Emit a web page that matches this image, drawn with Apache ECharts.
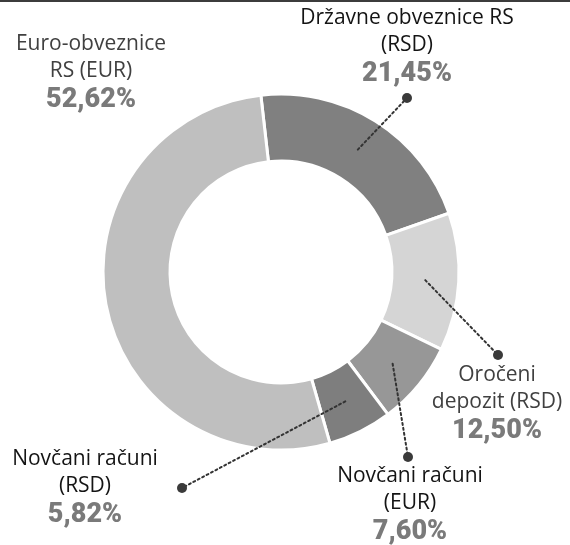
<!DOCTYPE html>
<html>
<head>
    <meta charset="utf-8" />
    <title>Struktura portfolija</title>
    <script src="https://cdn.jsdelivr.net/npm/echarts@6/dist/echarts.min.js"></script>
    <style>
        html, body { margin: 0; padding: 0; background: #fff; }
        #echart { width: 570px; height: 543px; border-top: 2px solid #3c3c3c; }
    </style>
</head>
<body>
    <div id="echart"></div>
<script>
    // data, clockwise from the top
    var names = ['Državne obveznice RS\n(RSD)', 'Oročeni\ndepozit (RSD)', 'Novčani računi\n(EUR)', 'Novčani računi\n(RSD)', 'Euro-obveznice\nRS (EUR)'];
    var values = [21.45, 12.50, 7.60, 5.82, 52.62];
    var colors = ['#808080', '#d5d5d5', '#979797', '#7e7e7e', '#bfbfbf'];
    var textTone = ['n', 'm', 'n', 'n', 'm'];
    // where the text block and the leader dot sit
    var labelPos = [[407, 45], [497, 402], [410, 503], [85, 486], [91, 71]];
    var dotPos = [[407, 96], [498, 353], [408, 455], [182, 486], null];

    var cx = 281, cy = 270, rIn = 111, rOut = 178, startAngle = 96.5;
    var rMid = (rIn + rOut) / 2;

    // mid angle of every slice, for where the leader line starts
    var total = values.reduce(function (a, b) { return a + b; }, 0);
    var midAngles = [];
    var acc = 0;
    for (var i = 0; i < values.length; i++) {
        midAngles.push((startAngle - (acc + values[i] / 2) / total * 360) * Math.PI / 180);
        acc += values[i];
    }

    function pct(v) { return v.toFixed(2).replace('.', ',') + '%'; }

    var myChart = echarts.init(document.getElementById('echart'));
    var option = {
        animation: false,
        series: [
            {
                type: 'pie',
                z: 2,
                center: [cx, cy],
                radius: [rIn, rOut],
                startAngle: startAngle,
                avoidLabelOverlap: false,
                emphasis: { disabled: true },
                itemStyle: { borderColor: '#fff', borderWidth: 3 },
                data: values.map(function (v, i) {
                    return { name: names[i], value: v, itemStyle: { color: colors[i] } };
                }),
                label: {
                    show: true,
                    formatter: function (p) {
                        var t = textTone[p.dataIndex];
                        var lines = names[p.dataIndex].split('\n');
                        return '{' + t + '|' + lines[0] + '}\n{' + t + '|' + lines[1] + '}\n{p|' + pct(values[p.dataIndex]) + '}';
                    },
                    rich: {
                        n: { fontFamily: 'Open Sans', fontSize: 21, fontWeight: 500, lineHeight: 27, color: '#141414' },
                        m: { fontFamily: 'Open Sans', fontSize: 21, fontWeight: 500, lineHeight: 27, color: '#404040' },
                        p: { fontFamily: 'Roboto', fontSize: 27, fontWeight: 900, lineHeight: 30, color: '#7a7a7a' }
                    }
                },
                labelLine: { show: false },
                labelLayout: function (p) {
                    var q = labelPos[p.dataIndex];
                    return { x: q[0], y: q[1], align: 'center', verticalAlign: 'middle' };
                }
            },
            {
                // invisible helper ring: its labels are the dots with dotted leaders
                type: 'pie',
                z: 5,
                center: [cx, cy],
                radius: [0, rMid],
                startAngle: startAngle,
                silent: true,
                avoidLabelOverlap: false,
                emphasis: { disabled: true },
                itemStyle: { color: 'rgba(0,0,0,0)' },
                data: values.map(function (v, i) {
                    var has = !!dotPos[i];
                    return { name: names[i], value: v, label: { show: has }, labelLine: { show: has } };
                }),
                label: {
                    formatter: '{d| }',
                    rich: { d: { width: 10, height: 10, borderRadius: 5, backgroundColor: '#3a3a3a' } }
                },
                labelLine: {
                    lineStyle: { color: '#333', width: 2, type: [2, 3], cap: 'round' }
                },
                labelLayout: function (p) {
                    var d = dotPos[p.dataIndex];
                    if (!d) return {};
                    var a = midAngles[p.dataIndex];
                    var sx = cx + rMid * Math.cos(a), sy = cy - rMid * Math.sin(a);
                    return {
                        x: d[0], y: d[1], align: 'center', verticalAlign: 'middle',
                        labelLinePoints: [[sx, sy], [(sx + d[0]) / 2, (sy + d[1]) / 2], [d[0], d[1]]]
                    };
                }
            }
        ]
    };
    myChart.setOption(option);
</script>
</body>
</html>
